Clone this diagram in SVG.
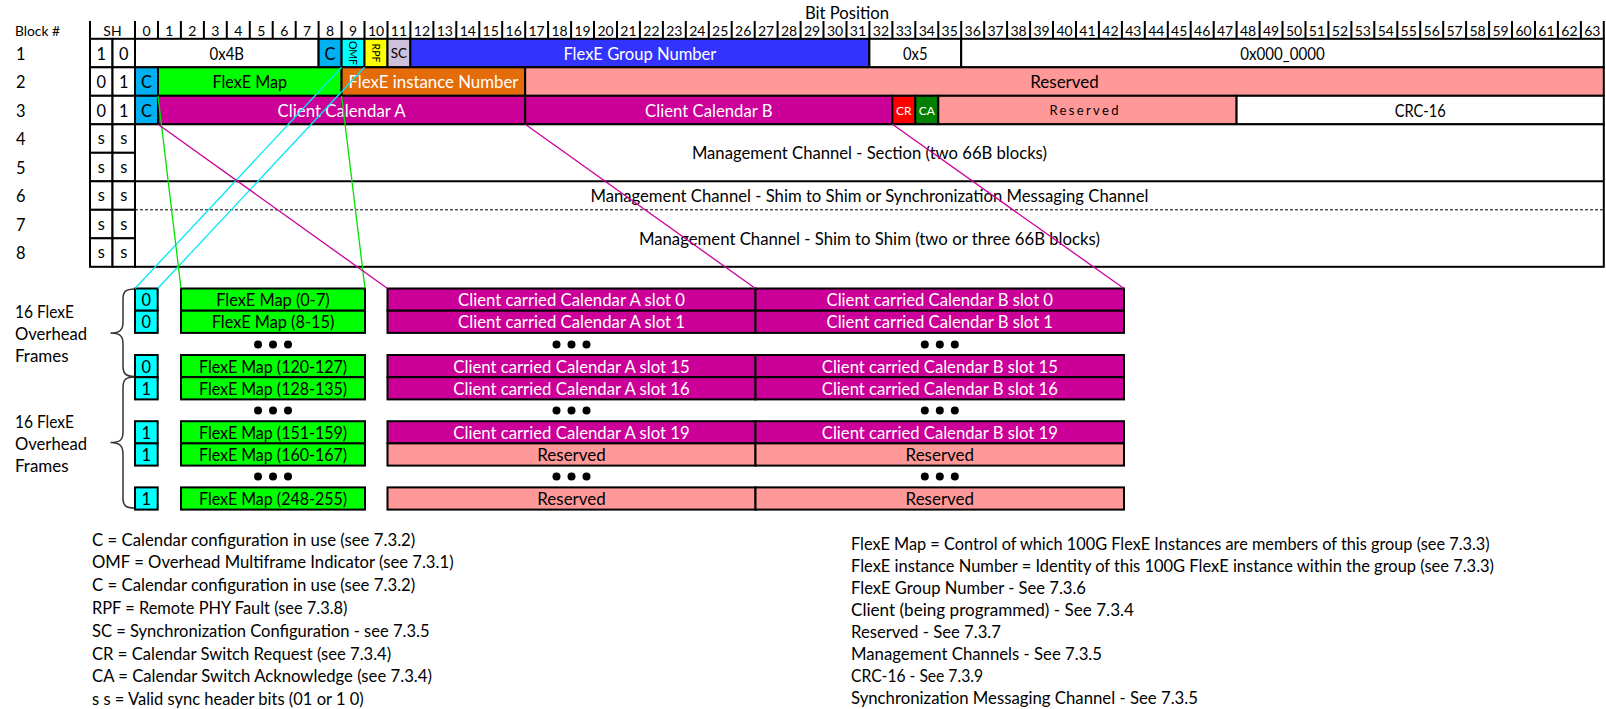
<svg xmlns="http://www.w3.org/2000/svg" width="1606" height="709" viewBox="0 0 1606 709">
<style>
text{font-family:Lato,"Liberation Sans",sans-serif;fill:#000}
.m{text-anchor:middle;dominant-baseline:central}
.cl{dominant-baseline:central}
.hd{font-size:14px}
.f16{font-size:16.4px}
.w{fill:#fff}
.b{stroke:#000;stroke-width:2}
.white{fill:#fff}
.cb{fill:#00B0F0}
.cy{fill:#00FFFF}
.gr{fill:#00FF00}
.mg{fill:#CC0099}
.rs{fill:#FF9999}
.leg{font-size:16.4px}
</style>
<rect width="1606" height="709" fill="#fff"/>

<text x="15" y="30.5" class="hd cl" textLength="45" lengthAdjust="spacingAndGlyphs">Block #</text>
<g id="block-numbers" class="f16">
<text x="16" y="53" class="cl">1</text>
<text x="16" y="81.5" class="cl">2</text>
<text x="16" y="110" class="cl">3</text>
<text x="16" y="138.5" class="cl">4</text>
<text x="16" y="167" class="cl">5</text>
<text x="16" y="195.5" class="cl">6</text>
<text x="16" y="224" class="cl">7</text>
<text x="16" y="252.5" class="cl">8</text>
</g>

<g id="overhead-block" transform="translate(1 0)">
<g id="header">
<text x="846" y="12" class="m" font-size="17" textLength="84" lengthAdjust="spacingAndGlyphs">Bit Position</text>
<text x="111.5" y="30" class="m hd">SH</text>
<path fill="none" stroke="#000" stroke-width="2" d="M89 21V39M134 21V39M157 21V39M179.9 21V39M202.9 21V39M225.8 21V39M248.8 21V39M271.7 21V39M294.7 21V39M317.6 21V39M340.6 21V39M363.5 21V39M386.5 21V39M409.4 21V39M432.4 21V39M455.3 21V39M478.3 21V39M501.2 21V39M524.2 21V39M547.1 21V39M570.1 21V39M593 21V39M616 21V39M638.9 21V39M661.9 21V39M684.8 21V39M707.8 21V39M730.7 21V39M753.7 21V39M776.6 21V39M799.6 21V39M822.5 21V39M845.5 21V39M868.4 21V39M891.4 21V39M914.3 21V39M937.3 21V39M960.2 21V39M983.2 21V39M1006.1 21V39M1029.1 21V39M1052 21V39M1075 21V39M1097.9 21V39M1120.9 21V39M1143.8 21V39M1166.8 21V39M1189.7 21V39M1212.7 21V39M1235.6 21V39M1258.6 21V39M1281.5 21V39M1304.5 21V39M1327.4 21V39M1350.4 21V39M1373.3 21V39M1396.3 21V39M1419.2 21V39M1442.2 21V39M1465.1 21V39M1488.1 21V39M1511 21V39M1534 21V39M1556.9 21V39M1579.9 21V39M1602.8 21V39"/>
<g class="hd">
<text x="145.5" y="30.5" class="m">0</text><text x="168.4" y="30.5" class="m">1</text><text x="191.4" y="30.5" class="m">2</text><text x="214.3" y="30.5" class="m">3</text><text x="237.3" y="30.5" class="m">4</text><text x="260.2" y="30.5" class="m">5</text><text x="283.2" y="30.5" class="m">6</text><text x="306.1" y="30.5" class="m">7</text><text x="329.1" y="30.5" class="m">8</text><text x="352" y="30.5" class="m">9</text>
<text x="375" y="30.5" class="m">10</text><text x="397.9" y="30.5" class="m">11</text><text x="420.9" y="30.5" class="m">12</text><text x="443.8" y="30.5" class="m">13</text><text x="466.8" y="30.5" class="m">14</text><text x="489.7" y="30.5" class="m">15</text><text x="512.7" y="30.5" class="m">16</text><text x="535.6" y="30.5" class="m">17</text><text x="558.6" y="30.5" class="m">18</text><text x="581.5" y="30.5" class="m">19</text>
<text x="604.5" y="30.5" class="m">20</text><text x="627.4" y="30.5" class="m">21</text><text x="650.4" y="30.5" class="m">22</text><text x="673.3" y="30.5" class="m">23</text><text x="696.3" y="30.5" class="m">24</text><text x="719.2" y="30.5" class="m">25</text><text x="742.2" y="30.5" class="m">26</text><text x="765.1" y="30.5" class="m">27</text><text x="788.1" y="30.5" class="m">28</text><text x="811" y="30.5" class="m">29</text>
<text x="834" y="30.5" class="m">30</text><text x="856.9" y="30.5" class="m">31</text><text x="879.9" y="30.5" class="m">32</text><text x="902.8" y="30.5" class="m">33</text><text x="925.8" y="30.5" class="m">34</text><text x="948.7" y="30.5" class="m">35</text><text x="971.7" y="30.5" class="m">36</text><text x="994.6" y="30.5" class="m">37</text><text x="1017.6" y="30.5" class="m">38</text><text x="1040.5" y="30.5" class="m">39</text>
<text x="1063.5" y="30.5" class="m">40</text><text x="1086.4" y="30.5" class="m">41</text><text x="1109.4" y="30.5" class="m">42</text><text x="1132.3" y="30.5" class="m">43</text><text x="1155.3" y="30.5" class="m">44</text><text x="1178.2" y="30.5" class="m">45</text><text x="1201.2" y="30.5" class="m">46</text><text x="1224.1" y="30.5" class="m">47</text><text x="1247.1" y="30.5" class="m">48</text><text x="1270" y="30.5" class="m">49</text>
<text x="1293" y="30.5" class="m">50</text><text x="1315.9" y="30.5" class="m">51</text><text x="1338.9" y="30.5" class="m">52</text><text x="1361.8" y="30.5" class="m">53</text><text x="1384.8" y="30.5" class="m">54</text><text x="1407.7" y="30.5" class="m">55</text><text x="1430.7" y="30.5" class="m">56</text><text x="1453.6" y="30.5" class="m">57</text><text x="1476.6" y="30.5" class="m">58</text><text x="1499.5" y="30.5" class="m">59</text>
<text x="1522.5" y="30.5" class="m">60</text><text x="1545.4" y="30.5" class="m">61</text><text x="1568.4" y="30.5" class="m">62</text><text x="1591.3" y="30.5" class="m">63</text>
</g>
</g>

<g id="row1">
<rect x="89" y="38.8" width="22.5" height="28.5" class="b white"/>
<rect x="111.5" y="38.8" width="22.5" height="28.5" class="b white"/>
<text x="100.3" y="53" class="m f16">1</text>
<text x="122.8" y="53" class="m f16">0</text>
<rect x="134" y="38.8" width="183.6" height="28.5" class="b white"/>
<text x="225.8" y="53" class="m f16" textLength="34.5" lengthAdjust="spacingAndGlyphs">0x4B</text>
<rect x="317.6" y="38.8" width="23" height="28.5" class="b cb"/>
<text x="329.1" y="53" class="m f16">C</text>
<rect x="340.6" y="38.8" width="22.9" height="28.5" class="b cy"/>
<text x="352" y="53" class="m" font-size="10.5" transform="rotate(90 352 53)">OMF</text>
<rect x="363.5" y="38.8" width="23" height="28.5" class="b" fill="#FFFF00"/>
<text x="375" y="53" class="m" font-size="10.5" transform="rotate(90 375 53)">RPF</text>
<rect x="386.5" y="38.8" width="22.9" height="28.5" class="b" fill="#CCC0DA"/>
<text x="397.9" y="53" class="m" font-size="13.5">SC</text>
<rect x="409.4" y="38.8" width="459" height="28.5" class="b" fill="#3333FF"/>
<text x="638.9" y="53" class="m f16 w" textLength="153" lengthAdjust="spacingAndGlyphs">FlexE Group Number</text>
<rect x="868.4" y="38.8" width="91.8" height="28.5" class="b white"/>
<text x="914.3" y="53" class="m f16" textLength="24.5" lengthAdjust="spacingAndGlyphs">0x5</text>
<rect x="960.2" y="38.8" width="642.6" height="28.5" class="b white"/>
<text x="1281.5" y="53" class="m f16" textLength="84.5" lengthAdjust="spacingAndGlyphs">0x000_0000</text>
</g>

<g id="row2">
<rect x="89" y="67.3" width="22.5" height="28.5" class="b white"/>
<rect x="111.5" y="67.3" width="22.5" height="28.5" class="b white"/>
<text x="100.3" y="81.5" class="m f16">0</text>
<text x="122.8" y="81.5" class="m f16">1</text>
<rect x="134" y="67.3" width="23" height="28.5" class="b cb"/>
<text x="145.5" y="81.5" class="m f16">C</text>
<rect x="157" y="67.3" width="183.6" height="28.5" class="b gr"/>
<text x="248.8" y="81.5" class="m f16" textLength="74.5" lengthAdjust="spacingAndGlyphs">FlexE Map</text>
<rect x="340.6" y="67.3" width="183.6" height="28.5" class="b" fill="#E46C0A"/>
<text x="432.4" y="81.5" class="m f16 w" textLength="170" lengthAdjust="spacingAndGlyphs">FlexE instance Number</text>
<rect x="524.2" y="67.3" width="1078.6" height="28.5" class="b rs"/>
<text x="1063.5" y="81.5" class="m f16" textLength="68.5" lengthAdjust="spacingAndGlyphs">Reserved</text>
</g>

<g id="row3">
<rect x="89" y="95.8" width="22.5" height="28.5" class="b white"/>
<rect x="111.5" y="95.8" width="22.5" height="28.5" class="b white"/>
<text x="100.3" y="110" class="m f16">0</text>
<text x="122.8" y="110" class="m f16">1</text>
<rect x="134" y="95.8" width="23" height="28.5" class="b cb"/>
<text x="145.5" y="110" class="m f16">C</text>
<rect x="157" y="95.8" width="367.2" height="28.5" class="b mg"/>
<text x="340.6" y="110" class="m f16 w" textLength="128" lengthAdjust="spacingAndGlyphs">Client Calendar A</text>
<rect x="524.2" y="95.8" width="367.2" height="28.5" class="b mg"/>
<text x="707.8" y="110" class="m f16 w" textLength="127.5" lengthAdjust="spacingAndGlyphs">Client Calendar B</text>
<rect x="891.4" y="95.8" width="22.9" height="28.5" class="b" fill="#FF0000"/>
<text x="902.8" y="110" class="m w" font-size="12">CR</text>
<rect x="914.3" y="95.8" width="23" height="28.5" class="b" fill="#008000"/>
<text x="925.8" y="110" class="m w" font-size="12">CA</text>
<rect x="937.3" y="95.8" width="298.3" height="28.5" class="b rs"/>
<text x="1083" y="110" class="m" font-size="13" textLength="69" lengthAdjust="spacing">Reserved</text>
<rect x="1235.6" y="95.8" width="367.2" height="28.5" class="b white"/>
<text x="1419.2" y="110" class="m f16" textLength="51" lengthAdjust="spacingAndGlyphs">CRC-16</text>
</g>

<g id="sync-headers">
<rect x="89" y="124.3" width="22.5" height="28.5" class="b white"/><rect x="111.5" y="124.3" width="22.5" height="28.5" class="b white"/>
<rect x="89" y="152.8" width="22.5" height="28.5" class="b white"/><rect x="111.5" y="152.8" width="22.5" height="28.5" class="b white"/>
<rect x="89" y="181.3" width="22.5" height="28.5" class="b white"/><rect x="111.5" y="181.3" width="22.5" height="28.5" class="b white"/>
<rect x="89" y="209.8" width="22.5" height="28.5" class="b white"/><rect x="111.5" y="209.8" width="22.5" height="28.5" class="b white"/>
<rect x="89" y="238.3" width="22.5" height="28.5" class="b white"/><rect x="111.5" y="238.3" width="22.5" height="28.5" class="b white"/>
<g class="f16">
<text x="100.3" y="137.5" class="m">s</text><text x="122.8" y="137.5" class="m">s</text>
<text x="100.3" y="166" class="m">s</text><text x="122.8" y="166" class="m">s</text>
<text x="100.3" y="194.5" class="m">s</text><text x="122.8" y="194.5" class="m">s</text>
<text x="100.3" y="223" class="m">s</text><text x="122.8" y="223" class="m">s</text>
<text x="100.3" y="251.5" class="m">s</text><text x="122.8" y="251.5" class="m">s</text>
</g>
</g>

<g id="management-channels">
<rect x="134" y="124.3" width="1468.8" height="142.5" class="b white"/>
<line x1="134" y1="181.3" x2="1602.8" y2="181.3" stroke="#000" stroke-width="2"/>
<line x1="134" y1="209.8" x2="1602.8" y2="209.8" stroke="#000" stroke-width="1" stroke-dasharray="3 2"/>
<text x="868.4" y="152.8" class="m f16" textLength="355" lengthAdjust="spacingAndGlyphs">Management Channel - Section (two 66B blocks)</text>
<text x="868.4" y="195.5" class="m f16" textLength="558" lengthAdjust="spacingAndGlyphs">Management Channel - Shim to Shim or Synchronization Messaging Channel</text>
<text x="868.4" y="238.3" class="m f16" textLength="461" lengthAdjust="spacingAndGlyphs">Management Channel - Shim to Shim (two or three 66B blocks)</text>
</g>
</g>

<g id="frame-groups" class="f16">
<text x="15" y="311.5" class="cl" textLength="59" lengthAdjust="spacingAndGlyphs">16 FlexE</text>
<text x="15" y="333" class="cl" textLength="72" lengthAdjust="spacingAndGlyphs">Overhead</text>
<text x="15" y="355" class="cl" textLength="53.6" lengthAdjust="spacingAndGlyphs">Frames</text>
<text x="15" y="421.5" class="cl" textLength="59" lengthAdjust="spacingAndGlyphs">16 FlexE</text>
<text x="15" y="443.3" class="cl" textLength="72" lengthAdjust="spacingAndGlyphs">Overhead</text>
<text x="15" y="465" class="cl" textLength="53.6" lengthAdjust="spacingAndGlyphs">Frames</text>
<path d="M135 289C125 289 123 292 123 299V322C123 330 120 333 110.5 333C120 333 123 336 123 344V366C123 373 125 376.5 135 376.5" fill="none" stroke="#333" stroke-width="1.5"/>
<path d="M135 377C125 377 123 380 123 388V432C123 440 120 442.5 110.5 442.5C120 442.5 123 446 123 454V498C123 505 125 508 135 508" fill="none" stroke="#333" stroke-width="1.5"/>
</g>

<g id="omf-column">
<rect x="135" y="288.5" width="22.7" height="22.2" class="b cy"/><text x="146.3" y="299.6" class="m f16">0</text>
<rect x="135" y="310.7" width="22.7" height="22.2" class="b cy"/><text x="146.3" y="321.8" class="m f16">0</text>
<rect x="135" y="355" width="22.7" height="22.2" class="b cy"/><text x="146.3" y="366.1" class="m f16">0</text>
<rect x="135" y="377.2" width="22.7" height="22.2" class="b cy"/><text x="146.3" y="388.3" class="m f16">1</text>
<rect x="135" y="421.2" width="22.7" height="22.2" class="b cy"/><text x="146.3" y="432.3" class="m f16">1</text>
<rect x="135" y="443.4" width="22.7" height="22.2" class="b cy"/><text x="146.3" y="454.5" class="m f16">1</text>
<rect x="135" y="487.4" width="22.7" height="22.2" class="b cy"/><text x="146.3" y="498.5" class="m f16">1</text>
</g>

<g id="flexe-map-column">
<rect x="181" y="288.5" width="184" height="22.2" class="b gr"/><text x="273" y="299.6" class="m f16" textLength="113.5" lengthAdjust="spacingAndGlyphs">FlexE Map (0-7)</text>
<rect x="181" y="310.7" width="184" height="22.2" class="b gr"/><text x="273" y="321.8" class="m f16" textLength="122.5" lengthAdjust="spacingAndGlyphs">FlexE Map (8-15)</text>
<rect x="181" y="355" width="184" height="22.2" class="b gr"/><text x="273" y="366.1" class="m f16" textLength="148" lengthAdjust="spacingAndGlyphs">FlexE Map (120-127)</text>
<rect x="181" y="377.2" width="184" height="22.2" class="b gr"/><text x="273" y="388.3" class="m f16" textLength="148" lengthAdjust="spacingAndGlyphs">FlexE Map (128-135)</text>
<rect x="181" y="421.2" width="184" height="22.2" class="b gr"/><text x="273" y="432.3" class="m f16" textLength="148" lengthAdjust="spacingAndGlyphs">FlexE Map (151-159)</text>
<rect x="181" y="443.4" width="184" height="22.2" class="b gr"/><text x="273" y="454.5" class="m f16" textLength="148" lengthAdjust="spacingAndGlyphs">FlexE Map (160-167)</text>
<rect x="181" y="487.4" width="184" height="22.2" class="b gr"/><text x="273" y="498.5" class="m f16" textLength="148" lengthAdjust="spacingAndGlyphs">FlexE Map (248-255)</text>
</g>

<g id="calendar-a-column">
<rect x="387.5" y="288.5" width="368" height="22.2" class="b mg"/><text x="571.5" y="299.6" class="m f16 w" textLength="227" lengthAdjust="spacingAndGlyphs">Client carried Calendar A slot 0</text>
<rect x="387.5" y="310.7" width="368" height="22.2" class="b mg"/><text x="571.5" y="321.8" class="m f16 w" textLength="227" lengthAdjust="spacingAndGlyphs">Client carried Calendar A slot 1</text>
<rect x="387.5" y="355" width="368" height="22.2" class="b mg"/><text x="571.5" y="366.1" class="m f16 w" textLength="236.5" lengthAdjust="spacingAndGlyphs">Client carried Calendar A slot 15</text>
<rect x="387.5" y="377.2" width="368" height="22.2" class="b mg"/><text x="571.5" y="388.3" class="m f16 w" textLength="236.5" lengthAdjust="spacingAndGlyphs">Client carried Calendar A slot 16</text>
<rect x="387.5" y="421.2" width="368" height="22.2" class="b mg"/><text x="571.5" y="432.3" class="m f16 w" textLength="236.5" lengthAdjust="spacingAndGlyphs">Client carried Calendar A slot 19</text>
<rect x="387.5" y="443.4" width="368" height="22.2" class="b rs"/><text x="571.5" y="454.5" class="m f16" textLength="68.5" lengthAdjust="spacingAndGlyphs">Reserved</text>
<rect x="387.5" y="487.4" width="368" height="22.2" class="b rs"/><text x="571.5" y="498.5" class="m f16" textLength="68.5" lengthAdjust="spacingAndGlyphs">Reserved</text>
</g>

<g id="calendar-b-column">
<rect x="755.5" y="288.5" width="368.5" height="22.2" class="b mg"/><text x="939.8" y="299.6" class="m f16 w" textLength="226.5" lengthAdjust="spacingAndGlyphs">Client carried Calendar B slot 0</text>
<rect x="755.5" y="310.7" width="368.5" height="22.2" class="b mg"/><text x="939.8" y="321.8" class="m f16 w" textLength="226.5" lengthAdjust="spacingAndGlyphs">Client carried Calendar B slot 1</text>
<rect x="755.5" y="355" width="368.5" height="22.2" class="b mg"/><text x="939.8" y="366.1" class="m f16 w" textLength="236" lengthAdjust="spacingAndGlyphs">Client carried Calendar B slot 15</text>
<rect x="755.5" y="377.2" width="368.5" height="22.2" class="b mg"/><text x="939.8" y="388.3" class="m f16 w" textLength="236" lengthAdjust="spacingAndGlyphs">Client carried Calendar B slot 16</text>
<rect x="755.5" y="421.2" width="368.5" height="22.2" class="b mg"/><text x="939.8" y="432.3" class="m f16 w" textLength="236" lengthAdjust="spacingAndGlyphs">Client carried Calendar B slot 19</text>
<rect x="755.5" y="443.4" width="368.5" height="22.2" class="b rs"/><text x="939.8" y="454.5" class="m f16" textLength="68.5" lengthAdjust="spacingAndGlyphs">Reserved</text>
<rect x="755.5" y="487.4" width="368.5" height="22.2" class="b rs"/><text x="939.8" y="498.5" class="m f16" textLength="68.5" lengthAdjust="spacingAndGlyphs">Reserved</text>
</g>

<g id="ellipses" fill="#000">
<circle cx="258" cy="344.5" r="4"/><circle cx="273" cy="344.5" r="4"/><circle cx="288" cy="344.5" r="4"/>
<circle cx="556.5" cy="344.5" r="4"/><circle cx="571.5" cy="344.5" r="4"/><circle cx="586.5" cy="344.5" r="4"/>
<circle cx="924.8" cy="344.5" r="4"/><circle cx="939.8" cy="344.5" r="4"/><circle cx="954.8" cy="344.5" r="4"/>
<circle cx="258" cy="410.5" r="4"/><circle cx="273" cy="410.5" r="4"/><circle cx="288" cy="410.5" r="4"/>
<circle cx="556.5" cy="410.5" r="4"/><circle cx="571.5" cy="410.5" r="4"/><circle cx="586.5" cy="410.5" r="4"/>
<circle cx="924.8" cy="410.5" r="4"/><circle cx="939.8" cy="410.5" r="4"/><circle cx="954.8" cy="410.5" r="4"/>
<circle cx="258" cy="476.5" r="4"/><circle cx="273" cy="476.5" r="4"/><circle cx="288" cy="476.5" r="4"/>
<circle cx="556.5" cy="476.5" r="4"/><circle cx="571.5" cy="476.5" r="4"/><circle cx="586.5" cy="476.5" r="4"/>
<circle cx="924.8" cy="476.5" r="4"/><circle cx="939.8" cy="476.5" r="4"/><circle cx="954.8" cy="476.5" r="4"/>
</g>

<g id="connectors" fill="none" stroke-width="1.3">
<line x1="341.6" y1="67.3" x2="135" y2="288.5" stroke="#00E8F8"/>
<line x1="364.5" y1="67.3" x2="157.7" y2="288.5" stroke="#00E8F8"/>
<line x1="158" y1="95.8" x2="181" y2="288.5" stroke="#00E000"/>
<line x1="341.6" y1="95.8" x2="365" y2="288.5" stroke="#00E000"/>
<line x1="158" y1="124.3" x2="387.5" y2="288.5" stroke="#CC0099"/>
<line x1="525.2" y1="124.3" x2="755.5" y2="288.5" stroke="#CC0099"/>
<line x1="892.4" y1="124.3" x2="1124" y2="288.5" stroke="#CC0099"/>
</g>

<g id="legend-left" class="leg">
<text x="92" y="539" class="cl" textLength="323.3" lengthAdjust="spacingAndGlyphs">C = Calendar configuration in use (see 7.3.2)</text>
<text x="92" y="561.8" class="cl" textLength="361.6" lengthAdjust="spacingAndGlyphs">OMF = Overhead Multiframe Indicator (see 7.3.1)</text>
<text x="92" y="584.6" class="cl" textLength="323.3" lengthAdjust="spacingAndGlyphs">C = Calendar configuration in use (see 7.3.2)</text>
<text x="92" y="607.4" class="cl" textLength="255.5" lengthAdjust="spacingAndGlyphs">RPF = Remote PHY Fault (see 7.3.8)</text>
<text x="92" y="630.2" class="cl" textLength="337.5" lengthAdjust="spacingAndGlyphs">SC = Synchronization Configuration - see 7.3.5</text>
<text x="92" y="653" class="cl" textLength="299.2" lengthAdjust="spacingAndGlyphs">CR = Calendar Switch Request (see 7.3.4)</text>
<text x="92" y="675.8" class="cl" textLength="339.9" lengthAdjust="spacingAndGlyphs">CA = Calendar Switch Acknowledge (see 7.3.4)</text>
<text x="92" y="698.6" class="cl" textLength="271.7" lengthAdjust="spacingAndGlyphs">s s = Valid sync header bits (01 or 1 0)</text>
</g>

<g id="legend-right" class="leg">
<text x="851" y="543" class="cl" textLength="638.6" lengthAdjust="spacingAndGlyphs">FlexE Map = Control of which 100G FlexE Instances are members of this group (see 7.3.3)</text>
<text x="851" y="565" class="cl" textLength="643" lengthAdjust="spacingAndGlyphs">FlexE instance Number = Identity of this 100G FlexE instance within the group (see 7.3.3)</text>
<text x="851" y="587" class="cl" textLength="235" lengthAdjust="spacingAndGlyphs">FlexE Group Number - See 7.3.6</text>
<text x="851" y="609" class="cl" textLength="283" lengthAdjust="spacingAndGlyphs">Client (being programmed) - See 7.3.4</text>
<text x="851" y="631" class="cl" textLength="150" lengthAdjust="spacingAndGlyphs">Reserved - See 7.3.7</text>
<text x="851" y="653" class="cl" textLength="251" lengthAdjust="spacingAndGlyphs">Management Channels - See 7.3.5</text>
<text x="851" y="675" class="cl" textLength="132" lengthAdjust="spacingAndGlyphs">CRC-16 - See 7.3.9</text>
<text x="851" y="697" class="cl" textLength="347" lengthAdjust="spacingAndGlyphs">Synchronization Messaging Channel - See 7.3.5</text>
</g>
</svg>
